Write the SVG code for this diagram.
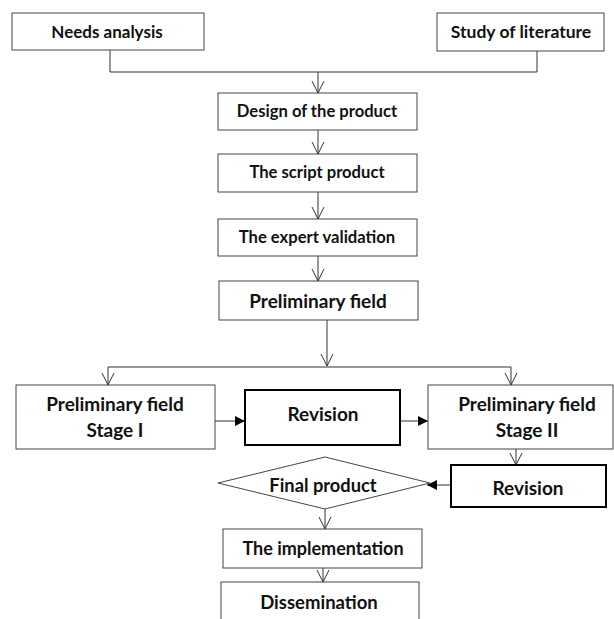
<svg xmlns="http://www.w3.org/2000/svg" width="614" height="619" viewBox="0 0 614 619">
<style>
  .box { fill: #ffffff; stroke: #444444; stroke-width: 1; }
  .bold { fill: #ffffff; stroke: #000000; stroke-width: 2; }
  .t { font-family: "Lato", "Open Sans", sans-serif; font-weight: bold; fill: #111111; text-anchor: middle; dominant-baseline: central; }
  .s { font-size: 16.6px; }
  .m { font-size: 18px; }
  .l { font-size: 19px; }
  .c { fill: none; stroke: #333333; stroke-width: 1; }
  .va { marker-end: url(#open); }
  .fa { marker-end: url(#solid); }
</style>
<defs>
  <marker id="open" markerUnits="userSpaceOnUse" markerWidth="14" markerHeight="14" viewBox="0 0 14 14" refX="12" refY="7" orient="auto">
    <path d="M0,1 L12,7 L0,13" fill="none" stroke="#333333" stroke-width="1"/>
  </marker>
  <marker id="solid" markerUnits="userSpaceOnUse" markerWidth="12" markerHeight="12" viewBox="0 0 12 12" refX="11" refY="6" orient="auto">
    <path d="M1,1 L11,6 L1,11 z" fill="#000000"/>
  </marker>
</defs>

<g id="connectors">
  <path class="c" d="M110,50 V72 H537 V51"/>
  <path class="c va" d="M318,72 V93"/>
  <path class="c va" d="M318,130 V154"/>
  <path class="c va" d="M318,192 V219"/>
  <path class="c va" d="M318,256 V281"/>
  <path class="c va" d="M327,320 V366"/>
  <path class="c" d="M108,367 H511"/>
  <path class="c va" d="M108,367 V385"/>
  <path class="c va" d="M511,367 V385"/>
  <path class="c fa" d="M209,421 H245"/>
  <path class="c fa" d="M397,421 H428"/>
  <path class="c va" d="M516,449 V465"/>
  <path class="c fa" d="M451,485 H427"/>
  <path class="c va" d="M325,509 V529"/>
  <path class="c va" d="M323,568 V582"/>
</g>

<g id="needs-analysis">
  <rect class="box" x="12" y="13" width="192" height="37"/>
  <text class="t" style="font-size:17px" x="107" y="31">Needs analysis</text>
</g>
<g id="study-of-literature">
  <rect class="box" x="437" y="13" width="167" height="38"/>
  <text class="t" style="font-size:17.5px" x="521" y="31">Study of literature</text>
</g>
<g id="design">
  <rect class="box" x="218" y="93" width="199" height="37"/>
  <text class="t s" x="317" y="111">Design of the product</text>
</g>
<g id="script-product">
  <rect class="box" x="218" y="154" width="199" height="38"/>
  <text class="t s" x="317" y="172">The script product</text>
</g>
<g id="expert-validation">
  <rect class="box" x="218" y="219" width="199" height="37"/>
  <text class="t s" x="317" y="237">The expert validation</text>
</g>
<g id="preliminary-field">
  <rect class="box" x="219" y="281" width="199" height="39"/>
  <text class="t l" x="318" y="300">Preliminary field</text>
</g>
<g id="stage-1">
  <rect class="box" x="16" y="385" width="199" height="64"/>
  <text class="t l" x="115" y="403">Preliminary field</text>
  <text class="t l" x="115" y="429">Stage I</text>
</g>
<g id="revision-1">
  <rect class="bold" x="245" y="390" width="155" height="55"/>
  <text class="t l" x="323" y="413">Revision</text>
</g>
<g id="stage-2">
  <rect class="box" x="428" y="385" width="185" height="64"/>
  <text class="t l" x="527" y="403">Preliminary field</text>
  <text class="t l" x="527" y="429">Stage II</text>
</g>
<g id="revision-2">
  <rect class="bold" x="451" y="465" width="155" height="42"/>
  <text class="t l" x="528" y="487">Revision</text>
</g>
<g id="final-product">
  <polygon class="box" points="218,483 325,457 430,483 325,509"/>
  <text class="t" style="font-size:18.3px" x="323" y="485">Final product</text>
</g>
<g id="implementation">
  <rect class="box" x="223" y="529" width="199" height="39"/>
  <text class="t m" x="323" y="548">The implementation</text>
</g>
<g id="dissemination">
  <rect class="box" x="221" y="582" width="198" height="45"/>
  <text class="t" style="font-size:18.5px" x="319" y="602">Dissemination</text>
</g>
</svg>
